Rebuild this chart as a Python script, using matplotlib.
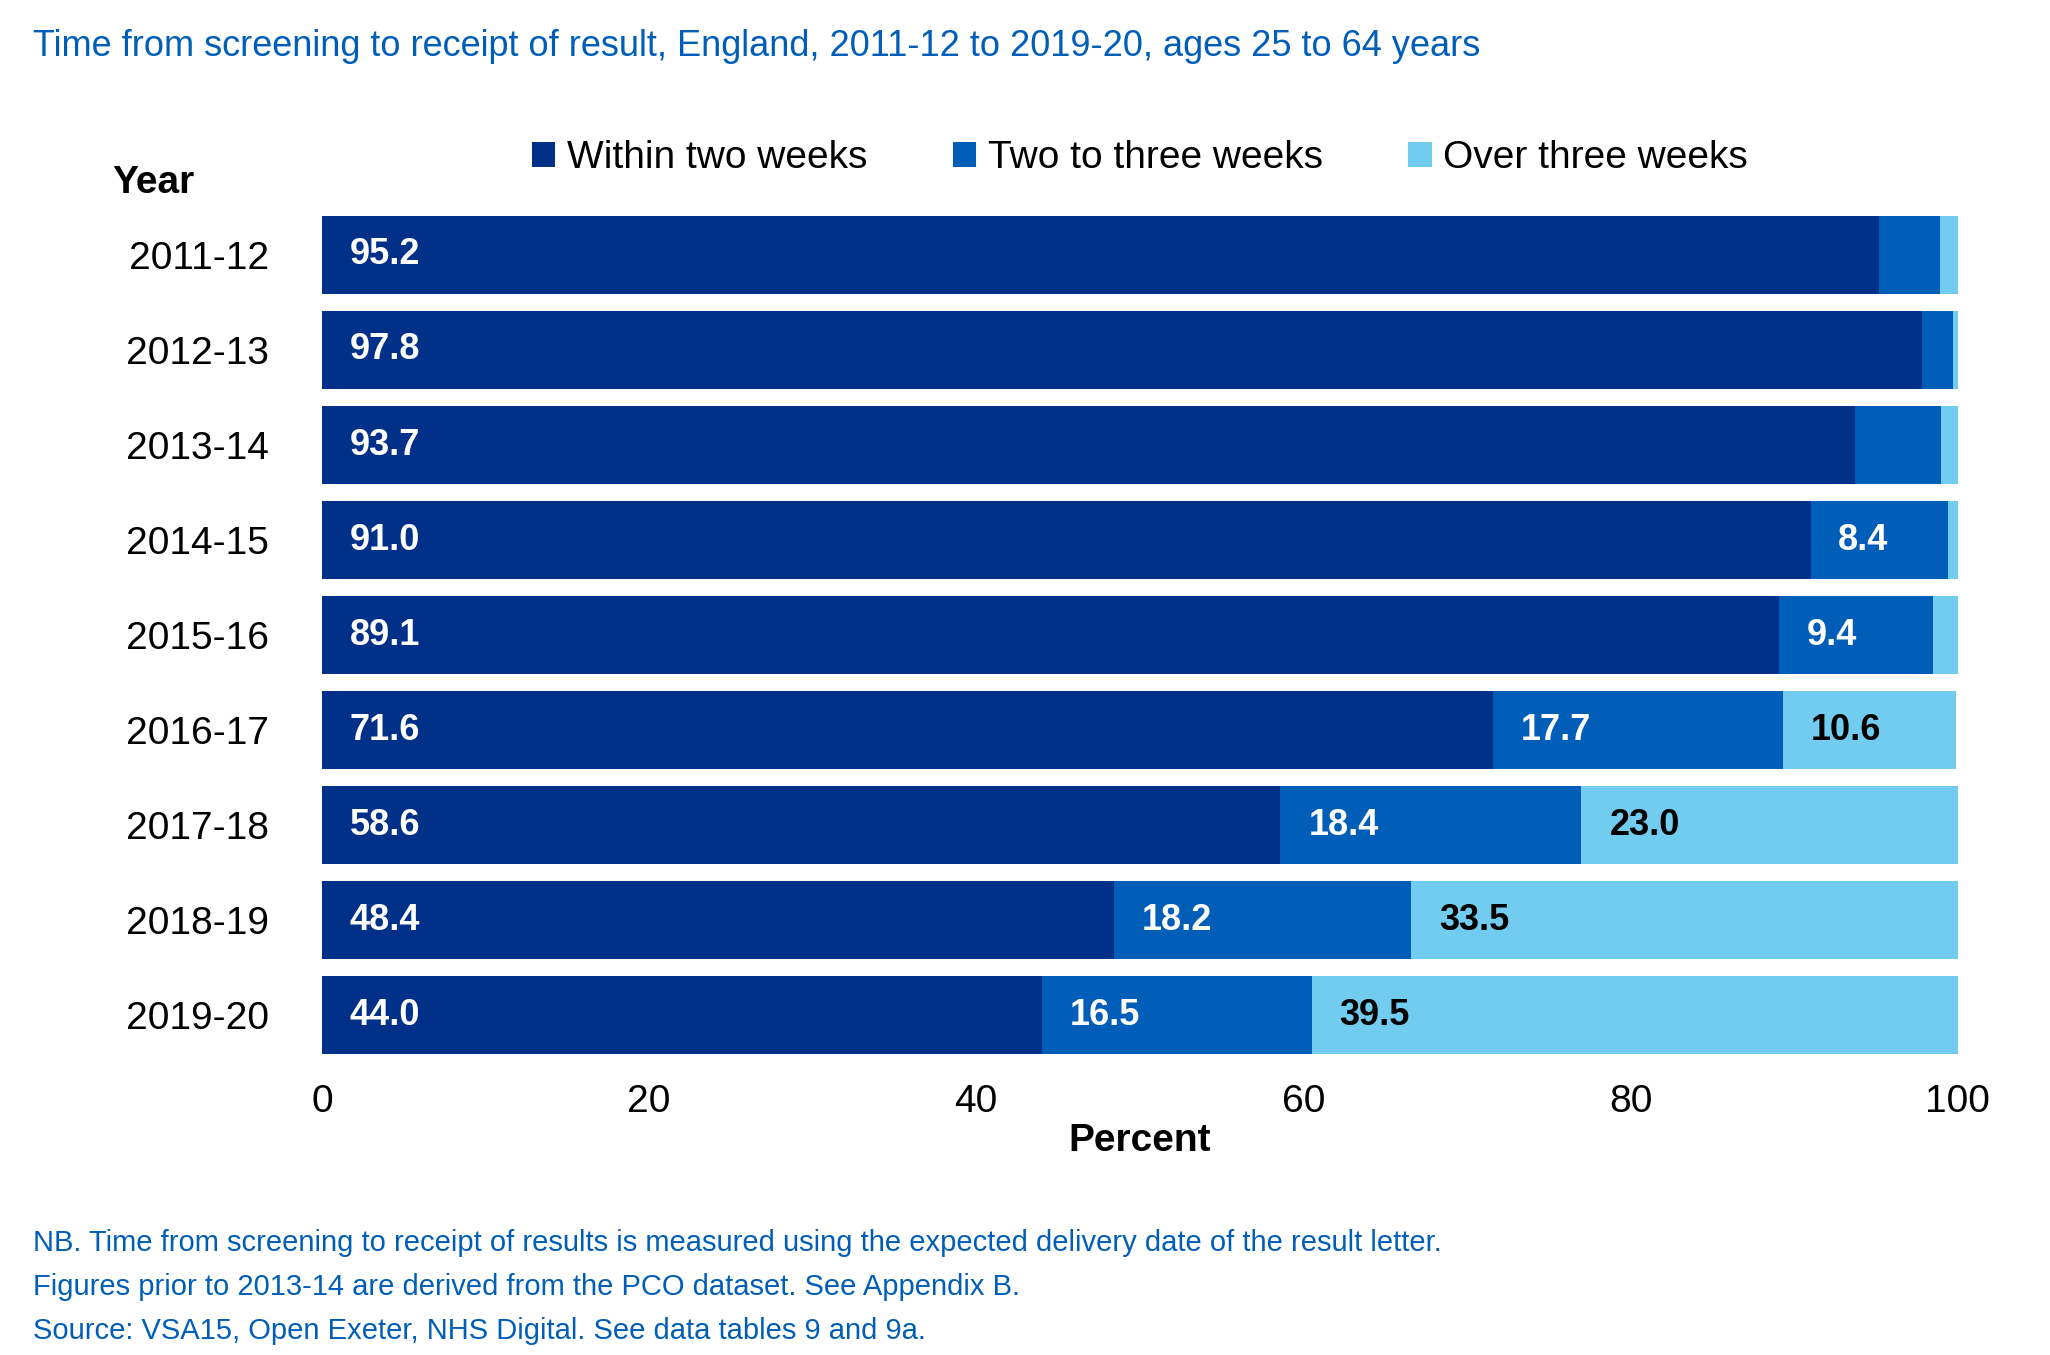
import matplotlib.pyplot as plt
import numpy as np

years = ["2011-12", "2012-13", "2013-14", "2014-15", "2015-16", "2016-17", "2017-18", "2018-19", "2019-20"]
within_two = [95.2, 97.8, 93.7, 91.0, 89.1, 71.6, 58.6, 48.4, 44.0]
two_three = [3.7, 1.9, 5.3, 8.4, 9.4, 17.7, 18.4, 18.2, 16.5]
over_three = [1.1, 0.3, 1.0, 0.6, 1.5, 10.6, 23.0, 33.5, 39.5]
series_names = ["Within two weeks", "Two to three weeks", "Over three weeks"]

colors = ["#003087", "#005EB8", "#71CCEF"]
text_colors = ["white", "white", "black"]
blue = "#005EB8"

plt.rcParams['font.family'] = ['Liberation Sans', 'DejaVu Sans']

fig = plt.figure(figsize=(20.5, 13.55), dpi=100)
ax = fig.add_axes([0.157, 0.212, 0.798, 0.642])

y = np.arange(len(years))
left = np.zeros(len(years))
for vals, name, col, tcol in zip([within_two, two_three, over_three], series_names, colors, text_colors):
    vals = np.array(vals)
    ax.barh(y, vals, left=left, height=0.82, color=col, label=name)
    for yi, (l, v) in enumerate(zip(left, vals)):
        if v >= 8:
            ax.text(l + 1.7, yi, f"{v:.1f}", va="center", ha="left", color=tcol,
                    fontsize=26, fontweight="bold")
    left += vals

ax.set_xlim(0, 100)
ax.set_ylim(len(years) - 0.45, -0.6)
ax.set_yticks(y)
ax.set_yticklabels(years, fontsize=28)
ax.set_xticks([0, 20, 40, 60, 80, 100])
ax.tick_params(axis="x", labelsize=28, length=0, pad=12)
ax.tick_params(axis="y", length=0, pad=38)
for s in ax.spines.values():
    s.set_visible(False)
ax.set_xlabel("Percent", fontsize=28, fontweight="bold", labelpad=2)

ax.legend(loc="lower center", bbox_to_anchor=(0.5, 0.985), ncol=3, frameon=False,
          fontsize=28, handlelength=0.6, handleheight=0.6, handletextpad=0.3,
          columnspacing=2.2)
fig.text(0.055, 0.865, "Year", fontsize=28, fontweight="bold", va="center")

fig.text(0.016, 0.966, "Time from screening to receipt of result, England, 2011-12 to 2019-20, ages 25 to 64 years",
         fontsize=26, color=blue, va="center")
notes = ["NB. Time from screening to receipt of results is measured using the expected delivery date of the result letter.",
         "Figures prior to 2013-14 are derived from the PCO dataset. See Appendix B.",
         "Source: VSA15, Open Exeter, NHS Digital. See data tables 9 and 9a."]
for i, n in enumerate(notes):
    fig.text(0.016, 0.083 - i * 0.0325, n, fontsize=21, color=blue, va="center")

fig.savefig("out.png", dpi=100)
